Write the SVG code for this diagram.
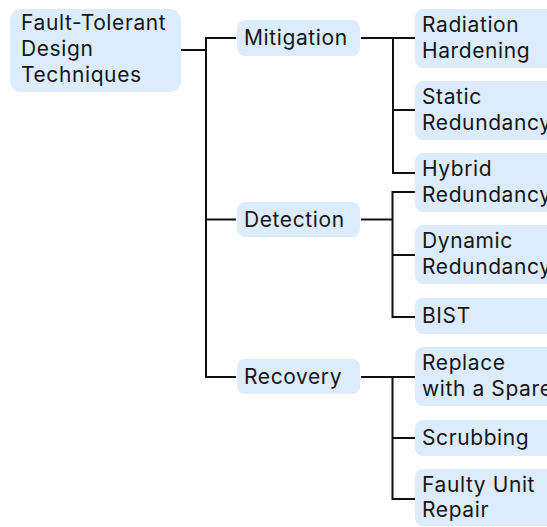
<svg xmlns="http://www.w3.org/2000/svg" width="547" height="527" viewBox="0 0 547 527">
  <style>
    .box { fill: #dcecfd; }
    .lbl { font-family: Inter, "Noto Sans", "Liberation Sans", sans-serif; font-size: 21px; letter-spacing: 0.6px; fill: #161616; }
    .wire { fill: none; stroke: #111; stroke-width: 2; stroke-linejoin: miter; stroke-linecap: butt; }
  </style>

  <!-- connectors -->
  <g id="connectors">
    <path class="wire" d="M181,50 H206 M206,37 V378 M206,38 H236 M206,219.5 H236 M206,377 H236"/>
    <path class="wire" d="M361,38 H415 M393,37 V173 H415 M393,110 H415"/>
    <path class="wire" d="M361,219.5 H392.5 M392.5,191 V317 H415 M392.5,192 H415 M392.5,255 H415"/>
    <path class="wire" d="M361,377 H415 M392.5,376 V499 H415 M392.5,438 H415"/>
  </g>

  <!-- root -->
  <g id="root">
    <rect class="box" x="10" y="9" width="171" height="83" rx="11"/>
    <text class="lbl" x="21" y="30">Fault-Tolerant</text>
    <text class="lbl" x="21" y="56">Design</text>
    <text class="lbl" x="21" y="82">Techniques</text>
  </g>

  <!-- categories -->
  <g id="mitigation">
    <rect class="box" x="237" y="20" width="123" height="36" rx="8"/>
    <text class="lbl" x="244" y="45">Mitigation</text>
  </g>
  <g id="detection">
    <rect class="box" x="237" y="202" width="123" height="35" rx="8"/>
    <text class="lbl" x="244" y="227">Detection</text>
  </g>
  <g id="recovery">
    <rect class="box" x="237" y="359" width="123" height="35" rx="8"/>
    <text class="lbl" x="244" y="384">Recovery</text>
  </g>

  <!-- techniques -->
  <g id="radiation-hardening">
    <rect class="box" x="415" y="9" width="160" height="59" rx="8"/>
    <text class="lbl" x="422" y="32">Radiation</text>
    <text class="lbl" x="422" y="58">Hardening</text>
  </g>
  <g id="static-redundancy">
    <rect class="box" x="415" y="81" width="160" height="59" rx="8"/>
    <text class="lbl" x="422" y="104">Static</text>
    <text class="lbl" x="422" y="130">Redundancy</text>
  </g>
  <g id="hybrid-redundancy">
    <rect class="box" x="415" y="153" width="160" height="59" rx="8"/>
    <text class="lbl" x="422" y="176">Hybrid</text>
    <text class="lbl" x="422" y="202">Redundancy</text>
  </g>
  <g id="dynamic-redundancy">
    <rect class="box" x="415" y="225" width="160" height="59" rx="8"/>
    <text class="lbl" x="422" y="248">Dynamic</text>
    <text class="lbl" x="422" y="274">Redundancy</text>
  </g>
  <g id="bist">
    <rect class="box" x="415" y="298" width="160" height="36" rx="8"/>
    <text class="lbl" x="422" y="323">BIST</text>
  </g>
  <g id="replace-with-spare">
    <rect class="box" x="415" y="347" width="160" height="59" rx="8"/>
    <text class="lbl" x="422" y="370">Replace</text>
    <text class="lbl" x="422" y="396">with a Spare</text>
  </g>
  <g id="scrubbing">
    <rect class="box" x="415" y="420" width="160" height="36" rx="8"/>
    <text class="lbl" x="422" y="445">Scrubbing</text>
  </g>
  <g id="faulty-unit-repair">
    <rect class="box" x="415" y="469" width="160" height="57" rx="8"/>
    <text class="lbl" x="422" y="492">Faulty Unit</text>
    <text class="lbl" x="422" y="517">Repair</text>
  </g>
</svg>
